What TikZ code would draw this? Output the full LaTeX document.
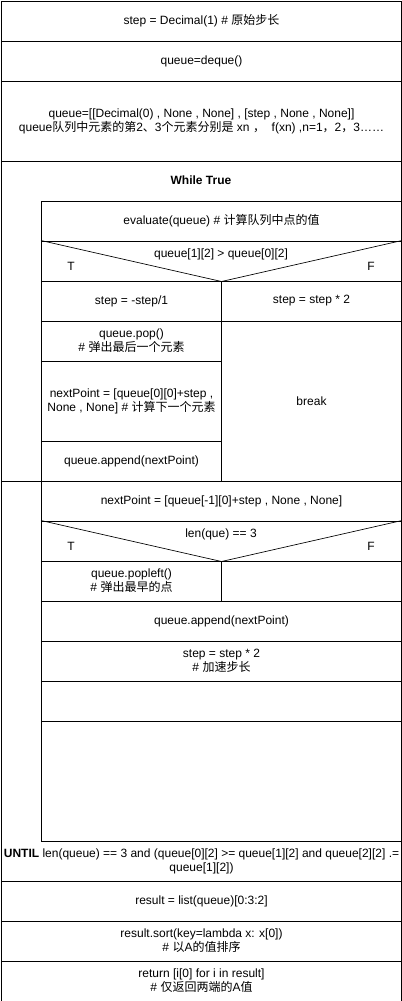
\documentclass[tikz,border=0pt]{standalone}
\usepackage{fontspec}
\setmainfont{Liberation Sans}
\newfontfamily\cjk{Noto Sans CJK SC}

\begin{document}
\begin{tikzpicture}[x=0.75pt,y=-0.75pt,line width=0.75pt,
  cell/.style n args={2}{draw,rectangle,inner sep=1pt,anchor=north west,
    minimum width=#1*0.75pt,minimum height=#2*0.75pt,align=center,
    font=\fontsize{9}{10.5}\selectfont},
  txt/.style={inner sep=1pt,font=\fontsize{9}{10.5}\selectfont}]
  \useasboundingbox (-1,-0.5) rectangle (401,1000.5);

  \node[cell={400}{40}] (init) at (0,0) {step = Decimal(1) \# {\cjk 原始步长}};
  \node[cell={400}{40}] (deq) at (0,40) {queue=deque()};
  \node[cell={400}{80}] (que) at (0,80) {queue=[[Decimal(0) , None , None] , [step , None , None]]\\
    queue{\cjk 队列中元素的第}2{\cjk 、}3{\cjk 个元素分别是} xn {\cjk ，}~ f(xn) ,n=1{\cjk ，}2{\cjk ，}3……};

  \node[cell={400}{320}] (wh) at (0,160) {};
  \node[txt,font=\fontsize{9}{10.5}\selectfont\bfseries] (whtxt) at (200,180) {While True};
  \node[cell={360}{40}] (eval) at (40,200) {evaluate(queue) \# {\cjk 计算队列中点的值}};
  \node[cell={360}{40}] (cond1) at (40,240) {};
  \draw[line width=0.5pt] (cond1.north west) -- (cond1.south) -- (cond1.north east);
  \node[txt] (c1txt) at (220,254) {queue[1][2] > queue[0][2]};
  \node[txt] (c1t) at (70,266) {T};
  \node[txt] (c1f) at (370,266) {F};
  \node[cell={180}{40}] (neg) at (40,280) {step = -step/1};
  \node[cell={180}{40}] (dbl) at (220,280) {step = step * 2};
  \node[cell={180}{40}] (pop) at (40,320) {queue.pop()\\\# {\cjk 弹出最后一个元素}};
  \node[cell={180}{160}] (brk) at (220,320) {break};
  \node[cell={180}{80}] (nxt1) at (40,360) {nextPoint = [queue[0][0]+step ,\\None , None] \# {\cjk 计算下一个元素}};
  \node[cell={180}{40}] (app1) at (40,440) {queue.append(nextPoint)};

  \node[cell={400}{400}] (rep) at (0,480) {};
  \node[cell={360}{40}] (nxt2) at (40,480) {nextPoint = [queue[-1][0]+step , None , None]};
  \node[cell={360}{40}] (cond2) at (40,520) {};
  \draw[line width=0.5pt] (cond2.north west) -- (cond2.south) -- (cond2.north east);
  \node[txt] (c2txt) at (220,534) {len(que) == 3};
  \node[txt] (c2t) at (70,546) {T};
  \node[txt] (c2f) at (370,546) {F};
  \node[cell={180}{40}] (popl) at (40,560) {queue.popleft()\\\# {\cjk 弹出最早的点}};
  \node[cell={180}{40}] (nop) at (220,560) {};
  \node[cell={360}{40}] (app2) at (40,600) {queue.append(nextPoint)};
  \node[cell={360}{40}] (acc) at (40,640) {step = step * 2\\\# {\cjk 加速步长}};
  \node[cell={360}{40}] (emp1) at (40,680) {};
  \node[cell={360}{120}] (emp2) at (40,720) {};
  \node[cell={400}{40},draw=none] (until) at (0,840) {\textbf{UNTIL} len(queue) == 3 and (queue[0][2] >= queue[1][2] and queue[2][2] .=\\queue[1][2])};

  \node[cell={400}{40}] (res) at (0,880) {result = list(queue)[0:3:2]};
  \node[cell={400}{40}] (srt) at (0,920) {result.sort(key=lambda x: x[0])\\\# {\cjk 以}A{\cjk 的值排序}};
  \node[cell={400}{40}] (ret) at (0,960) {return [i[0] for i in result]\\\# {\cjk 仅返回两端的}A{\cjk 值}};
\end{tikzpicture}
\end{document}
